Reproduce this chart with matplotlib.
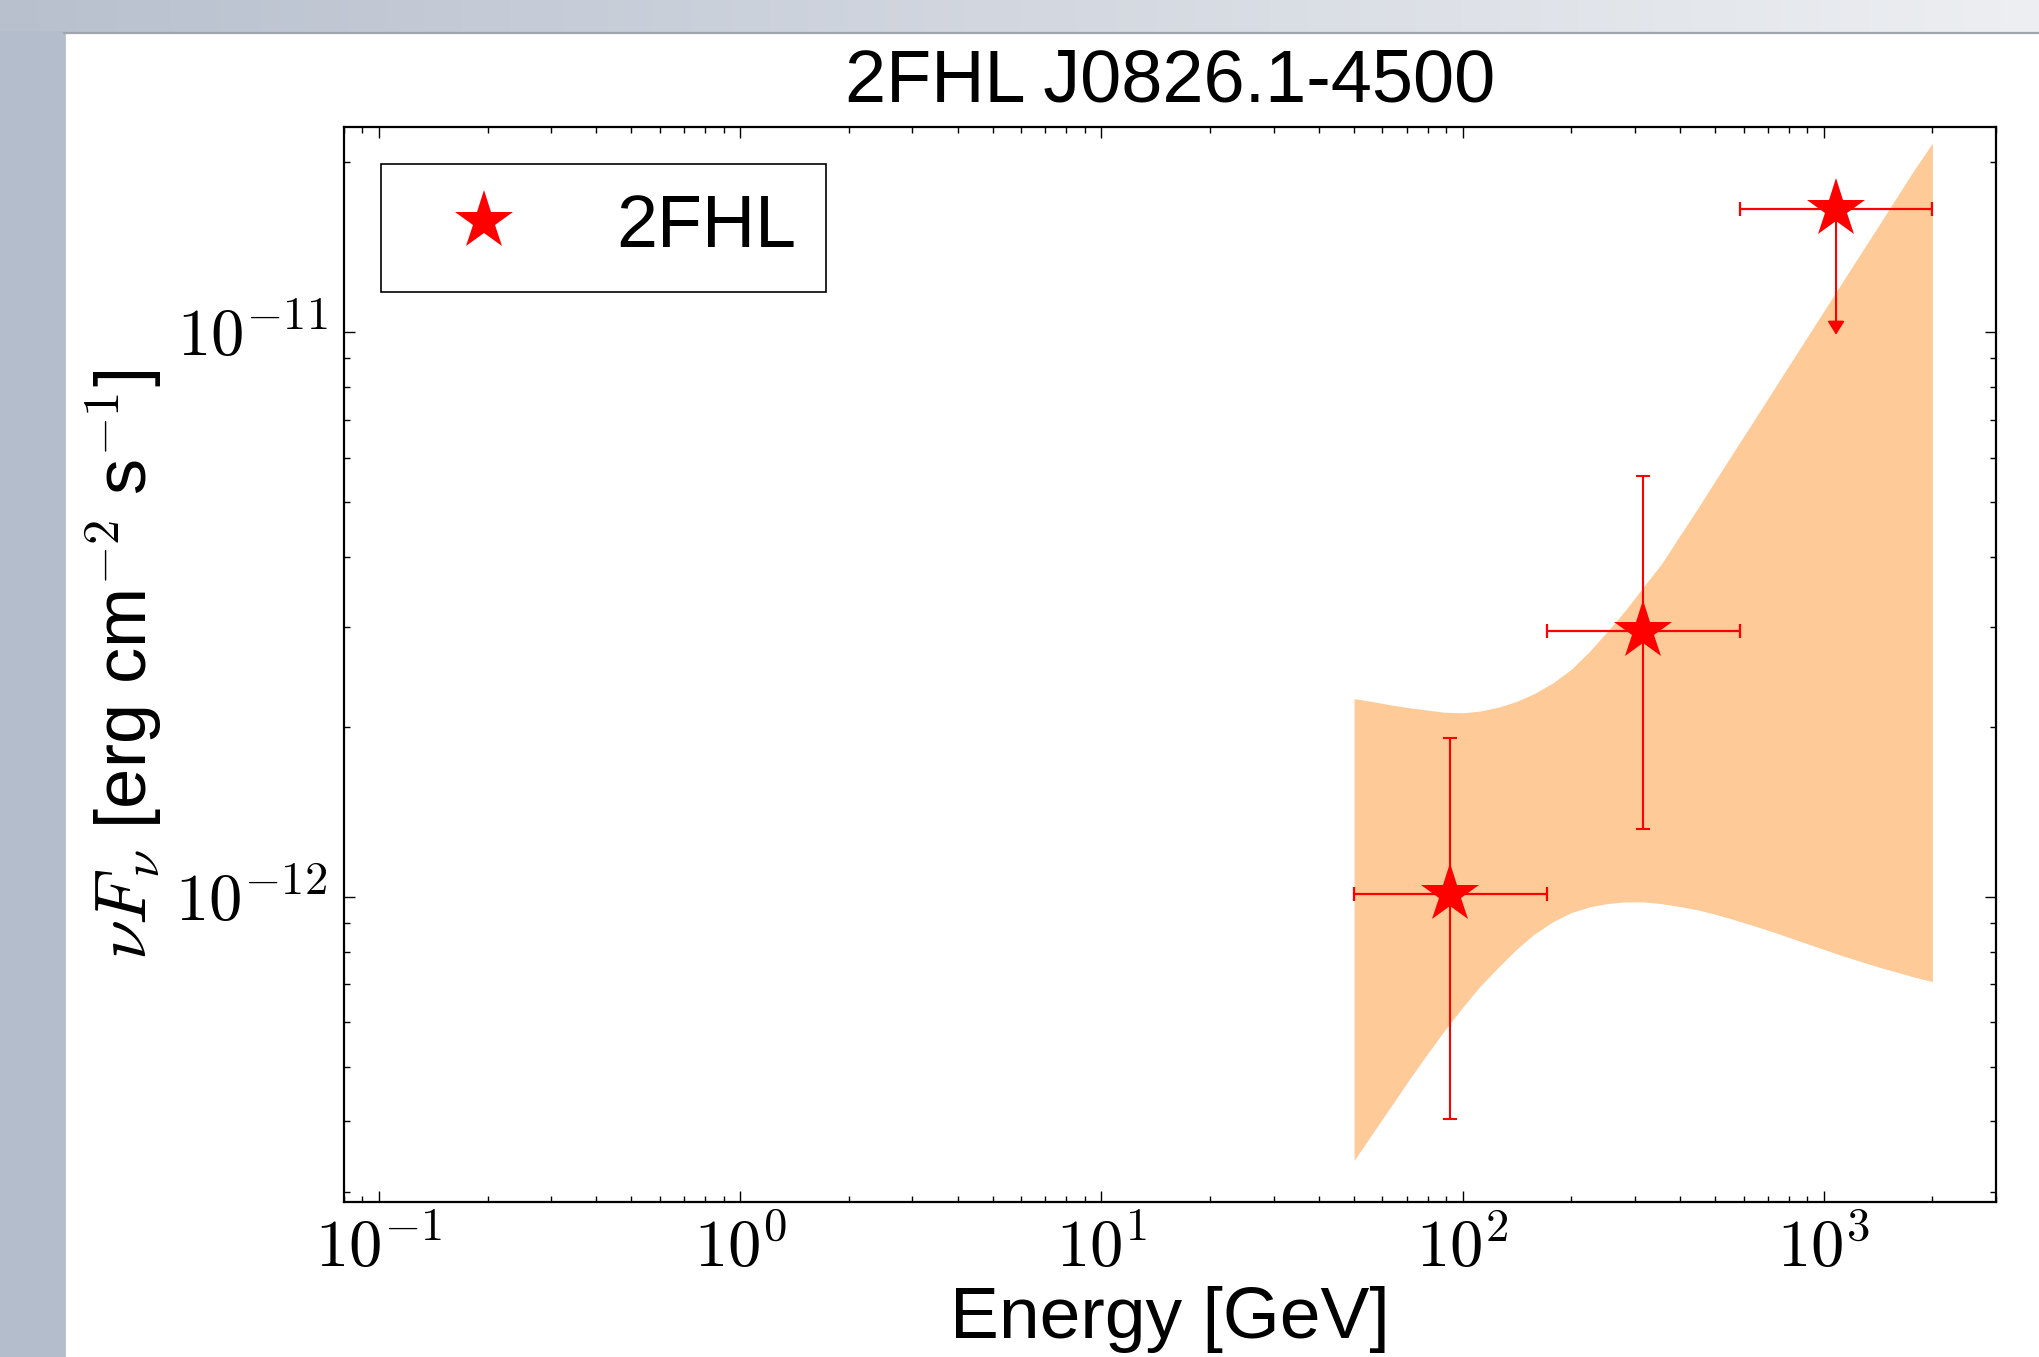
import numpy as np
import matplotlib
matplotlib.use("Agg")
import matplotlib.pyplot as plt
from matplotlib.ticker import FuncFormatter, LogLocator
from matplotlib.patches import Rectangle
from matplotlib.lines import Line2D

# ---------------- data ----------------
title = "2FHL J0826.1-4500"
series_label = "2FHL"

energy = [92.5, 316.0, 1082.0]              # GeV, bin centres
energy_lo = [50.0, 171.0, 585.0]            # bin edges
energy_hi = [171.0, 585.0, 2000.0]
flux = [1.01e-12, 2.96e-12, 1.65e-11]       # erg cm-2 s-1
flux_lo = [4.04e-13, 1.32e-12, 0.99e-11]    # for the upper limit: arrow tip
flux_hi = [1.91e-12, 5.57e-12, 1.65e-11]
is_upper_limit = [False, False, True]

band_energy = [50.1, 56.2, 63.1, 70.8, 79.4, 89.1, 100, 112, 126, 141, 158,
               178, 200, 224, 251, 282, 316, 355, 398, 447, 501, 562, 631,
               708, 794, 891, 1000, 1122, 1259, 1413, 1585, 1778, 2000]
band_upper = [2.244e-12, 2.218e-12, 2.188e-12, 2.163e-12, 2.143e-12,
              2.123e-12, 2.118e-12, 2.133e-12, 2.168e-12, 2.218e-12,
              2.291e-12, 2.393e-12, 2.529e-12, 2.716e-12, 2.944e-12,
              3.214e-12, 3.532e-12, 3.882e-12, 4.345e-12, 4.864e-12,
              5.458e-12, 6.124e-12, 6.871e-12, 7.709e-12, 8.650e-12,
              9.705e-12, 1.089e-11, 1.222e-11, 1.371e-11, 1.538e-11,
              1.726e-11, 1.936e-11, 2.163e-11]
band_lower = [3.412e-13, 3.802e-13, 4.236e-13, 4.721e-13, 5.236e-13,
              5.794e-13, 6.368e-13, 6.950e-13, 7.516e-13, 8.072e-13,
              8.590e-13, 9.036e-13, 9.376e-13, 9.594e-13, 9.727e-13,
              9.795e-13, 9.795e-13, 9.727e-13, 9.616e-13, 9.484e-13,
              9.311e-13, 9.120e-13, 8.913e-13, 8.710e-13, 8.492e-13,
              8.279e-13, 8.072e-13, 7.870e-13, 7.691e-13, 7.516e-13,
              7.362e-13, 7.211e-13, 7.079e-13]

xlim = (0.08, 3000)
ylim = (2.88e-13, 2.31e-11)

# ---------------- style ----------------
plt.rcParams['font.family'] = ['Liberation Sans', 'DejaVu Sans']
plt.rcParams['mathtext.fontset'] = 'cm'

W, H, DPI = 2040, 1357, 200
fig = plt.figure(figsize=(W / DPI, H / DPI), dpi=DPI)
fig.patch.set_facecolor('white')

# screenshot frame (background decoration, drawn directly on the figure)
TOP, LEFT = 32, 64
grad = np.linspace(0, 1, W)
c0 = np.array([184, 192, 206]) / 255.0
c1 = np.array([237, 239, 242]) / 255.0
strip = c0[None, :] * (1 - grad[:, None]) + c1[None, :] * grad[:, None]
strip = np.repeat(strip[None, :, :], TOP, axis=0)
fig.figimage(strip, xo=0, yo=H - TOP, origin='upper', zorder=0)
fig.add_artist(Rectangle((0, 0), LEFT / W, (H - TOP) / H,
                         transform=fig.transFigure,
                         color=(180/255, 189/255, 203/255), zorder=0.5))
fig.add_artist(Line2D([LEFT / W, 1], [1 - 32.5 / H, 1 - 32.5 / H],
                      transform=fig.transFigure,
                      color=(160/255, 164/255, 172/255), lw=0.8, zorder=0.6))

ax = fig.add_axes([344 / W, 1 - 1202 / H, (1996 - 344) / W, (1202 - 127) / H])
ax.set_xscale('log')
ax.set_yscale('log')

ax.fill_between(band_energy, band_lower, band_upper, color='#fdca98',
                linewidth=0, zorder=1)

E = np.array(energy)
F = np.array(flux)
ul = np.array(is_upper_limit)
det = ~ul
xerr = [E - np.array(energy_lo), np.array(energy_hi) - E]
ax.errorbar(E, F, xerr=xerr, fmt='none', ecolor='red', elinewidth=0.8,
            capsize=2.4, capthick=0.8, zorder=2)
yerr = [(F - np.array(flux_lo))[det], (np.array(flux_hi) - F)[det]]
ax.errorbar(E[det], F[det], yerr=yerr, fmt='none', ecolor='red',
            elinewidth=0.75, capsize=2.4, capthick=0.75, zorder=2)
for e, f, fl in zip(E[ul], F[ul], np.array(flux_lo)[ul]):
    ax.annotate('', xy=(e, fl), xytext=(e, f),
                arrowprops=dict(arrowstyle='-|>,head_length=0.4,head_width=0.25',
                                color='red', lw=0.75, shrinkA=0, shrinkB=0,
                                mutation_scale=10),
                zorder=2)
ax.plot(E, F, linestyle='none', marker='*', markersize=22, color='red',
        markeredgewidth=0, label=series_label, zorder=3)

ax.set_xlim(*xlim)
ax.set_ylim(*ylim)

fmt = FuncFormatter(lambda v, p: r'$10^{%d}$' % int(round(np.log10(v))))
ax.xaxis.set_major_locator(LogLocator(base=10, numticks=20))
ax.yaxis.set_major_locator(LogLocator(base=10, numticks=20))
ax.xaxis.set_major_formatter(fmt)
ax.yaxis.set_major_formatter(fmt)
ax.tick_params(which='both', direction='in', top=True, right=True,
               width=0.5, colors='black')
ax.tick_params(which='major', length=4, labelsize=24, pad=6)
ax.tick_params(which='minor', length=2)
for s in ax.spines.values():
    s.set_linewidth(0.8)

ax.set_title(title, fontsize=26.6, pad=9)
ax.set_xlabel('Energy [GeV]', fontsize=26.4, labelpad=2)
ax.set_ylabel(r'$\nu F_\nu$ [erg cm$^{-2}$ s$^{-1}$]', fontsize=26, labelpad=4)

leg = ax.legend(loc='upper left', numpoints=1, fontsize=26.5, fancybox=False,
                edgecolor='black', framealpha=1)
leg.get_frame().set_linewidth(0.6)

fig.savefig('out.png', dpi=DPI)
